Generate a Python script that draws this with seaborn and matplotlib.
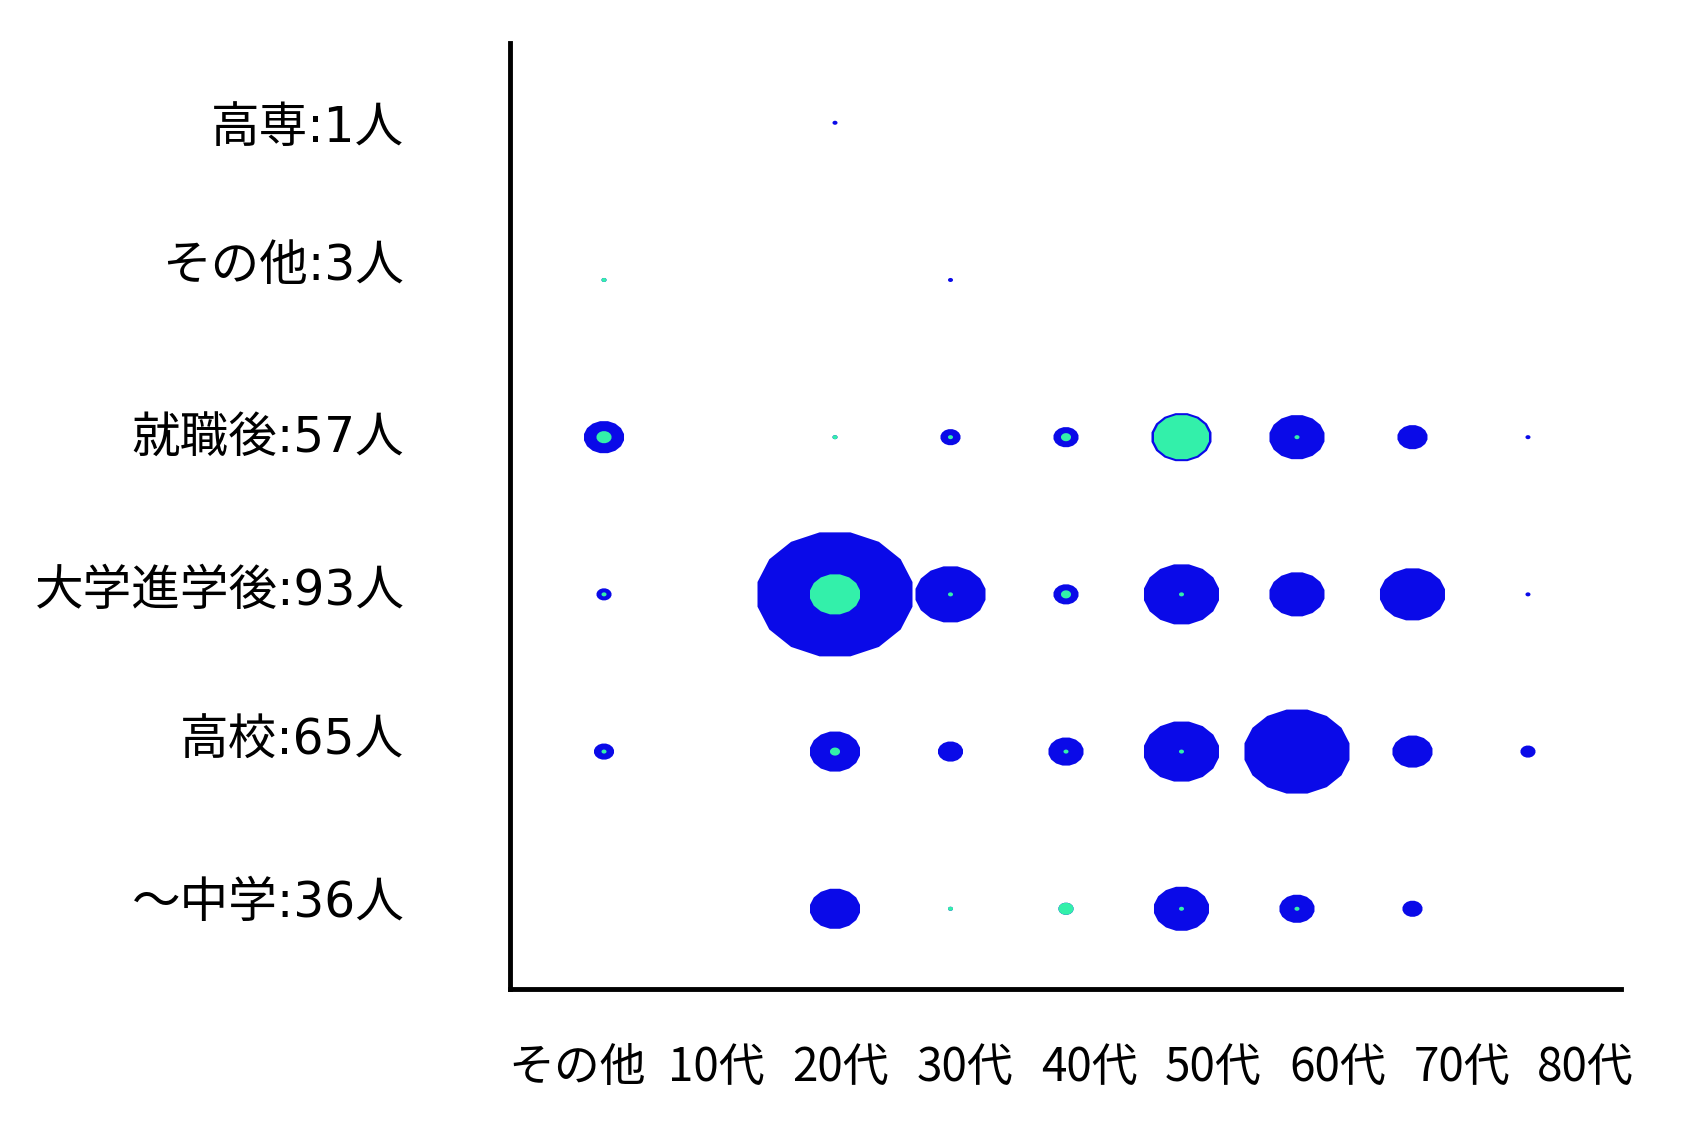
import numpy as np
import pandas as pd
import matplotlib
matplotlib.use('Agg')
import matplotlib.pyplot as plt
from matplotlib.path import Path
import seaborn as sns

# Categories
ages = ['その他', '10代', '20代', '30代', '40代', '50代', '60代', '70代', '80代']
groups = ['高専:1人', 'その他:3人', '就職後:57人', '大学進学後:93人', '高校:65人', '～中学:36人']

# Number of people per age band (outer blue bubble), one list per group
kosen    = [0, 0, 1, 0, 0, 0, 0, 0, 0]
sonota   = [1, 0, 0, 1, 0, 0, 0, 0, 0]
shushoku = [8, 0, 1, 4, 5, 12, 11, 6, 1]
daigaku  = [3, 0, 31, 14, 5, 15, 11, 13, 1]
koko     = [4, 0, 10, 5, 7, 15, 21, 8, 3]
chugaku  = [0, 0, 10, 1, 3, 11, 7, 4, 0]

# Inner (green) part of each bubble
kosen_in    = [0, 0, 0, 0, 0, 0, 0, 0, 0]
sonota_in   = [1, 0, 0, 0, 0, 0, 0, 0, 0]
shushoku_in = [3, 0, 1, 1, 2, 11, 1, 0, 0]
daigaku_in  = [1, 0, 10, 1, 2, 1, 0, 0, 0]
koko_in     = [1, 0, 2, 0, 1, 1, 0, 0, 0]
chugaku_in  = [0, 0, 0, 1, 3, 1, 1, 0, 0]

totals = [kosen, sonota, shushoku, daigaku, koko, chugaku]
inners = [kosen_in, sonota_in, shushoku_in, daigaku_in, koko_in, chugaku_in]

# Long table: one row per group / age band
rows = []
for j, g in enumerate(groups):
    for i, a in enumerate(ages):
        rows.append({'group': g, 'age': a, 'x': i, 'y': j,
                     'total': totals[j][i], 'inner': inners[j][i]})
df = pd.DataFrame(rows)

# Slightly flattened 16-sided bubble shape
n = 16
ang = np.pi / n + 2 * np.pi * np.arange(n) / n
verts = np.column_stack([np.cos(ang), 0.8 * np.sin(ang)])
bubble = Path(np.vstack([verts, verts[:1]]), closed=True)

unit = 3.6  # bubble width in points per person

sns.set_style('white')
fig = plt.figure(figsize=(17, 11.27), dpi=100)
ax = fig.add_axes([0.3, 0.1225, 0.6535, 0.839])

outer = df[df['total'] > 0].reset_index(drop=True)
sns.scatterplot(data=outer, x='x', y='y', s=(unit * outer['total'].to_numpy()) ** 2,
                marker=bubble, color='#0A0AE8', edgecolor='none',
                linewidth=0, legend=False, ax=ax)

inner = df[df['inner'] > 0].reset_index(drop=True)
sns.scatterplot(data=inner, x='x', y='y', s=(unit * inner['inner'].to_numpy()) ** 2,
                marker=bubble, color='#33F0AA', edgecolor='none',
                linewidth=0, legend=False, ax=ax)

ax.set_xlim(-0.814, 8.805)
ax.set_ylim(5.51, -0.505)

# Axis lines: only left and bottom, thick black
for side in ['top', 'right']:
    ax.spines[side].set_visible(False)
for side in ['left', 'bottom']:
    ax.spines[side].set_color('black')
    ax.spines[side].set_linewidth(3.5)

# Row labels sit a little above their bubble rows in the original
y_tick_pos = np.arange(len(groups)) - np.array([0, 0.12, 0.02, 0.055, 0.1, 0.07])
ax.set_yticks(y_tick_pos)
ax.set_yticklabels(groups, fontsize=35, color='black',
                   family=['DejaVu Sans', 'Noto Sans CJK JP'])

# Age labels are spaced a bit wider than the bubble columns
x_tick_pos = np.arange(len(ages)) * 1.075 - 0.1
x_tick_pos[0] = -0.23
ax.set_xticks(x_tick_pos)
ax.set_xticklabels(ages, fontsize=33, color='black',
                   family=['Noto Sans CJK JP', 'DejaVu Sans'])
ax.tick_params(axis='y', length=0, pad=76)
ax.tick_params(axis='x', length=0, pad=39)
ax.set_xlabel('')
ax.set_ylabel('')

fig.savefig('out.png', dpi=100, facecolor='white')
